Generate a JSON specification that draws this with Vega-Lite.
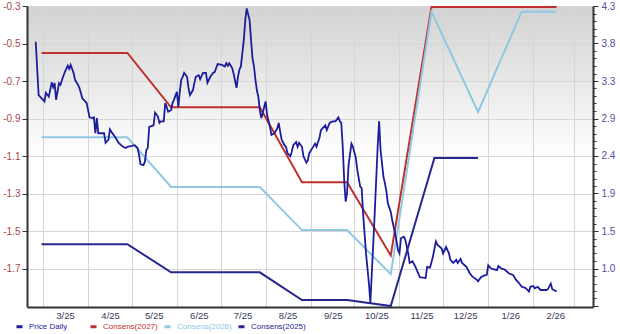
{
  "$schema": "https://vega.github.io/schema/vega-lite/v6.json",
  "width": 566,
  "height": 301,
  "autosize": "none",
  "padding": {"left": 27, "top": 6, "right": 27, "bottom": 27},
  "background": "#ffffff",
  "config": {
    "view": {
      "stroke": null,
      "fill": {"gradient": "linear", "x1": 0, "y1": 0, "x2": 0, "y2": 1,
        "stops": [{"offset": 0, "color": "#d2d2d2"}, {"offset": 0.5, "color": "#ffffff"}, {"offset": 1, "color": "#ffffff"}]}
    },
    "axis": {"labelFont": "Liberation Sans", "domainColor": "#333333", "domainWidth": 2, "gridColor": "#d6d6d6", "gridWidth": 1, "tickColor": "#333333", "title": null}
  },
  "datasets": {
    "consens": [
      {"d": "2025-02-28", "v": -0.55, "s": "Consens(2027)"},
      {"d": "2025-04-28", "v": -0.55, "s": "Consens(2027)"},
      {"d": "2025-05-28", "v": -0.84, "s": "Consens(2027)"},
      {"d": "2025-07-28", "v": -0.84, "s": "Consens(2027)"},
      {"d": "2025-08-26", "v": -1.24, "s": "Consens(2027)"},
      {"d": "2025-09-26", "v": -1.24, "s": "Consens(2027)"},
      {"d": "2025-10-26", "v": -1.63, "s": "Consens(2027)"},
      {"d": "2025-11-23", "v": -0.305, "s": "Consens(2027)"},
      {"d": "2026-02-17", "v": -0.305, "s": "Consens(2027)"},
      {"d": "2025-02-28", "v": -1.0, "s": "Consens(2026)"},
      {"d": "2025-04-28", "v": -1.0, "s": "Consens(2026)"},
      {"d": "2025-05-28", "v": -1.265, "s": "Consens(2026)"},
      {"d": "2025-07-28", "v": -1.265, "s": "Consens(2026)"},
      {"d": "2025-08-26", "v": -1.495, "s": "Consens(2026)"},
      {"d": "2025-09-26", "v": -1.495, "s": "Consens(2026)"},
      {"d": "2025-10-26", "v": -1.73, "s": "Consens(2026)"},
      {"d": "2025-11-23", "v": -0.33, "s": "Consens(2026)"},
      {"d": "2025-12-25", "v": -0.865, "s": "Consens(2026)"},
      {"d": "2026-01-24", "v": -0.33, "s": "Consens(2026)"},
      {"d": "2026-02-17", "v": -0.33, "s": "Consens(2026)"},
      {"d": "2025-02-28", "v": -1.57, "s": "Consens(2025)"},
      {"d": "2025-04-28", "v": -1.57, "s": "Consens(2025)"},
      {"d": "2025-05-28", "v": -1.72, "s": "Consens(2025)"},
      {"d": "2025-07-28", "v": -1.72, "s": "Consens(2025)"},
      {"d": "2025-08-26", "v": -1.868, "s": "Consens(2025)"},
      {"d": "2025-09-26", "v": -1.868, "s": "Consens(2025)"},
      {"d": "2025-10-26", "v": -1.9, "s": "Consens(2025)"},
      {"d": "2025-11-25", "v": -1.11, "s": "Consens(2025)"},
      {"d": "2025-12-25", "v": -1.11, "s": "Consens(2025)"}
    ],
    "price": [
      {"d": "2025-02-24", "v": 3.85}, {"d": "2025-02-26", "v": 3.18}, {"d": "2025-03-01", "v": 3.12}, {"d": "2025-03-02", "v": 3.10},
      {"d": "2025-03-03", "v": 3.21}, {"d": "2025-03-05", "v": 3.16}, {"d": "2025-03-07", "v": 3.34}, {"d": "2025-03-08", "v": 3.28},
      {"d": "2025-03-09", "v": 3.33}, {"d": "2025-03-10", "v": 3.12}, {"d": "2025-03-12", "v": 3.33}, {"d": "2025-03-13", "v": 3.31},
      {"d": "2025-03-14", "v": 3.37}, {"d": "2025-03-16", "v": 3.47}, {"d": "2025-03-18", "v": 3.55}, {"d": "2025-03-19", "v": 3.51},
      {"d": "2025-03-20", "v": 3.56}, {"d": "2025-03-22", "v": 3.46}, {"d": "2025-03-23", "v": 3.37}, {"d": "2025-03-25", "v": 3.31},
      {"d": "2025-03-26", "v": 3.27}, {"d": "2025-03-27", "v": 3.21}, {"d": "2025-03-28", "v": 3.14}, {"d": "2025-03-30", "v": 3.10},
      {"d": "2025-03-31", "v": 3.08}, {"d": "2025-04-02", "v": 2.90}, {"d": "2025-04-04", "v": 2.89}, {"d": "2025-04-05", "v": 2.90},
      {"d": "2025-04-06", "v": 2.70}, {"d": "2025-04-07", "v": 2.89}, {"d": "2025-04-08", "v": 2.70}, {"d": "2025-04-10", "v": 2.70},
      {"d": "2025-04-12", "v": 2.70}, {"d": "2025-04-13", "v": 2.58}, {"d": "2025-04-15", "v": 2.62}, {"d": "2025-04-16", "v": 2.75},
      {"d": "2025-04-17", "v": 2.72}, {"d": "2025-04-20", "v": 2.64}, {"d": "2025-04-22", "v": 2.58}, {"d": "2025-04-25", "v": 2.53},
      {"d": "2025-04-27", "v": 2.515}, {"d": "2025-04-28", "v": 2.53}, {"d": "2025-05-03", "v": 2.55}, {"d": "2025-05-05", "v": 2.515},
      {"d": "2025-05-06", "v": 2.43}, {"d": "2025-05-07", "v": 2.31}, {"d": "2025-05-09", "v": 2.30}, {"d": "2025-05-10", "v": 2.34},
      {"d": "2025-05-11", "v": 2.49}, {"d": "2025-05-12", "v": 2.515}, {"d": "2025-05-13", "v": 2.78}, {"d": "2025-05-16", "v": 2.80},
      {"d": "2025-05-17", "v": 2.96}, {"d": "2025-05-19", "v": 2.91}, {"d": "2025-05-20", "v": 2.83}, {"d": "2025-05-21", "v": 2.85},
      {"d": "2025-05-23", "v": 2.85}, {"d": "2025-05-24", "v": 3.08}, {"d": "2025-05-25", "v": 3.03}, {"d": "2025-05-26", "v": 2.97},
      {"d": "2025-05-28", "v": 2.99}, {"d": "2025-05-29", "v": 3.08}, {"d": "2025-05-30", "v": 3.12}, {"d": "2025-06-01", "v": 3.22},
      {"d": "2025-06-02", "v": 3.03}, {"d": "2025-06-03", "v": 3.22}, {"d": "2025-06-04", "v": 3.37}, {"d": "2025-06-05", "v": 3.41},
      {"d": "2025-06-06", "v": 3.46}, {"d": "2025-06-08", "v": 3.41}, {"d": "2025-06-09", "v": 3.27}, {"d": "2025-06-10", "v": 3.18},
      {"d": "2025-06-12", "v": 3.24}, {"d": "2025-06-13", "v": 3.33}, {"d": "2025-06-14", "v": 3.41}, {"d": "2025-06-16", "v": 3.43},
      {"d": "2025-06-17", "v": 3.38}, {"d": "2025-06-19", "v": 3.46}, {"d": "2025-06-21", "v": 3.46}, {"d": "2025-06-22", "v": 3.335},
      {"d": "2025-06-24", "v": 3.41}, {"d": "2025-06-26", "v": 3.46}, {"d": "2025-06-27", "v": 3.47}, {"d": "2025-06-28", "v": 3.52},
      {"d": "2025-06-29", "v": 3.57}, {"d": "2025-07-02", "v": 3.56}, {"d": "2025-07-04", "v": 3.54}, {"d": "2025-07-05", "v": 3.58},
      {"d": "2025-07-06", "v": 3.55}, {"d": "2025-07-07", "v": 3.58}, {"d": "2025-07-09", "v": 3.52}, {"d": "2025-07-10", "v": 3.45},
      {"d": "2025-07-12", "v": 3.27}, {"d": "2025-07-13", "v": 3.41}, {"d": "2025-07-14", "v": 3.50}, {"d": "2025-07-15", "v": 3.54},
      {"d": "2025-07-17", "v": 3.87}, {"d": "2025-07-18", "v": 4.12}, {"d": "2025-07-19", "v": 4.27}, {"d": "2025-07-21", "v": 4.12},
      {"d": "2025-07-22", "v": 3.87}, {"d": "2025-07-23", "v": 3.64}, {"d": "2025-07-24", "v": 3.54}, {"d": "2025-07-25", "v": 3.37},
      {"d": "2025-07-26", "v": 3.24}, {"d": "2025-07-27", "v": 3.16}, {"d": "2025-07-28", "v": 2.99}, {"d": "2025-07-29", "v": 2.89},
      {"d": "2025-07-30", "v": 2.95}, {"d": "2025-07-31", "v": 3.03}, {"d": "2025-08-01", "v": 3.10}, {"d": "2025-08-02", "v": 2.93},
      {"d": "2025-08-04", "v": 2.78}, {"d": "2025-08-05", "v": 2.68}, {"d": "2025-08-07", "v": 2.70}, {"d": "2025-08-09", "v": 2.76},
      {"d": "2025-08-10", "v": 2.83}, {"d": "2025-08-11", "v": 2.72}, {"d": "2025-08-12", "v": 2.62}, {"d": "2025-08-14", "v": 2.55},
      {"d": "2025-08-15", "v": 2.53}, {"d": "2025-08-16", "v": 2.45}, {"d": "2025-08-18", "v": 2.41}, {"d": "2025-08-19", "v": 2.47},
      {"d": "2025-08-20", "v": 2.55}, {"d": "2025-08-22", "v": 2.59}, {"d": "2025-08-23", "v": 2.53}, {"d": "2025-08-24", "v": 2.58},
      {"d": "2025-08-26", "v": 2.53}, {"d": "2025-08-27", "v": 2.41}, {"d": "2025-08-29", "v": 2.33}, {"d": "2025-08-30", "v": 2.36},
      {"d": "2025-08-31", "v": 2.45}, {"d": "2025-09-02", "v": 2.51}, {"d": "2025-09-04", "v": 2.57}, {"d": "2025-09-05", "v": 2.53},
      {"d": "2025-09-06", "v": 2.59}, {"d": "2025-09-07", "v": 2.64}, {"d": "2025-09-08", "v": 2.74}, {"d": "2025-09-11", "v": 2.80},
      {"d": "2025-09-12", "v": 2.74}, {"d": "2025-09-14", "v": 2.83}, {"d": "2025-09-16", "v": 2.85}, {"d": "2025-09-18", "v": 2.85},
      {"d": "2025-09-20", "v": 2.90}, {"d": "2025-09-21", "v": 2.85}, {"d": "2025-09-22", "v": 2.83}, {"d": "2025-09-23", "v": 2.53},
      {"d": "2025-09-24", "v": 2.11}, {"d": "2025-09-25", "v": 1.84}, {"d": "2025-09-26", "v": 1.95}, {"d": "2025-09-27", "v": 2.30},
      {"d": "2025-09-29", "v": 2.57}, {"d": "2025-09-30", "v": 2.53}, {"d": "2025-10-02", "v": 2.39}, {"d": "2025-10-03", "v": 2.24},
      {"d": "2025-10-05", "v": 2.03}, {"d": "2025-10-06", "v": 2.01}, {"d": "2025-10-07", "v": 1.69}, {"d": "2025-10-09", "v": 1.19},
      {"d": "2025-10-11", "v": 0.81}, {"d": "2025-10-12", "v": 0.57}, {"d": "2025-10-15", "v": 1.70}, {"d": "2025-10-17", "v": 2.53},
      {"d": "2025-10-18", "v": 2.85}, {"d": "2025-10-19", "v": 2.49}, {"d": "2025-10-21", "v": 2.15}, {"d": "2025-10-22", "v": 2.07},
      {"d": "2025-10-23", "v": 1.97}, {"d": "2025-10-24", "v": 1.82}, {"d": "2025-10-26", "v": 1.71}, {"d": "2025-10-27", "v": 1.61},
      {"d": "2025-10-29", "v": 1.44}, {"d": "2025-10-30", "v": 1.34}, {"d": "2025-10-31", "v": 1.23}, {"d": "2025-11-01", "v": 1.19},
      {"d": "2025-11-02", "v": 1.38}, {"d": "2025-11-04", "v": 1.40}, {"d": "2025-11-05", "v": 1.36}, {"d": "2025-11-07", "v": 1.19},
      {"d": "2025-11-08", "v": 1.07}, {"d": "2025-11-10", "v": 1.09}, {"d": "2025-11-12", "v": 1.02}, {"d": "2025-11-15", "v": 0.89},
      {"d": "2025-11-19", "v": 0.88}, {"d": "2025-11-20", "v": 1.02}, {"d": "2025-11-22", "v": 1.01}, {"d": "2025-11-24", "v": 1.15},
      {"d": "2025-11-26", "v": 1.34}, {"d": "2025-11-27", "v": 1.30}, {"d": "2025-11-30", "v": 1.25}, {"d": "2025-12-01", "v": 1.19},
      {"d": "2025-12-03", "v": 1.27}, {"d": "2025-12-05", "v": 1.19}, {"d": "2025-12-06", "v": 1.11}, {"d": "2025-12-08", "v": 1.07},
      {"d": "2025-12-10", "v": 1.11}, {"d": "2025-12-11", "v": 1.07}, {"d": "2025-12-13", "v": 1.12}, {"d": "2025-12-14", "v": 1.07},
      {"d": "2025-12-17", "v": 1.02}, {"d": "2025-12-19", "v": 0.95}, {"d": "2025-12-21", "v": 0.90}, {"d": "2025-12-24", "v": 0.86},
      {"d": "2025-12-25", "v": 0.84}, {"d": "2025-12-27", "v": 0.89}, {"d": "2025-12-29", "v": 0.91}, {"d": "2025-12-31", "v": 0.92},
      {"d": "2026-01-01", "v": 1.04}, {"d": "2026-01-03", "v": 1.00}, {"d": "2026-01-05", "v": 0.99}, {"d": "2026-01-07", "v": 0.98},
      {"d": "2026-01-08", "v": 1.03}, {"d": "2026-01-10", "v": 1.00}, {"d": "2026-01-12", "v": 0.99}, {"d": "2026-01-14", "v": 0.96},
      {"d": "2026-01-15", "v": 0.94}, {"d": "2026-01-18", "v": 0.92}, {"d": "2026-01-20", "v": 0.86}, {"d": "2026-01-22", "v": 0.82},
      {"d": "2026-01-24", "v": 0.77}, {"d": "2026-01-26", "v": 0.76}, {"d": "2026-01-27", "v": 0.75}, {"d": "2026-01-29", "v": 0.71},
      {"d": "2026-01-30", "v": 0.77}, {"d": "2026-02-01", "v": 0.78}, {"d": "2026-02-02", "v": 0.75}, {"d": "2026-02-04", "v": 0.77},
      {"d": "2026-02-06", "v": 0.73}, {"d": "2026-02-07", "v": 0.73}, {"d": "2026-02-10", "v": 0.73}, {"d": "2026-02-11", "v": 0.74},
      {"d": "2026-02-13", "v": 0.81}, {"d": "2026-02-14", "v": 0.74}, {"d": "2026-02-15", "v": 0.73}, {"d": "2026-02-17", "v": 0.71}
    ]
  },
  "encoding": {
    "x": {
      "field": "d", "type": "temporal",
      "scale": {"type": "utc", "domain": [{"year": 2025, "month": 2, "date": 18, "utc": true}, {"year": 2026, "month": 3, "date": 14, "utc": true}]},
      "axis": {
        "values": [
          {"year": 2025, "month": 3, "date": 1, "utc": true}, {"year": 2025, "month": 4, "date": 1, "utc": true},
          {"year": 2025, "month": 5, "date": 1, "utc": true}, {"year": 2025, "month": 6, "date": 1, "utc": true},
          {"year": 2025, "month": 7, "date": 1, "utc": true}, {"year": 2025, "month": 8, "date": 1, "utc": true},
          {"year": 2025, "month": 9, "date": 1, "utc": true}, {"year": 2025, "month": 10, "date": 1, "utc": true},
          {"year": 2025, "month": 11, "date": 1, "utc": true}, {"year": 2025, "month": 12, "date": 1, "utc": true},
          {"year": 2026, "month": 1, "date": 1, "utc": true}, {"year": 2026, "month": 2, "date": 1, "utc": true},
          {"year": 2026, "month": 3, "date": 1, "utc": true}
        ],
        "format": "%-m/%y",
        "labelExpr": "utcyear(datum.value) == 2026 && utcmonth(datum.value) == 2 ? '' : datum.label",
        "labelOffset": 22,
        "ticks": false,
        "grid": true,
        "labelFontSize": 9.5,
        "labelColor": "#3a3a55",
        "labelPadding": 3,
        "labelFlush": false,
        "labelOverlap": false
      }
    },
    "color": {
      "field": "s", "type": "nominal",
      "scale": {"domain": ["Price Daily", "Consens(2027)", "Consens(2026)", "Consens(2025)"], "range": ["#1c1c9c", "#c0302e", "#8ec8e3", "#26268f"]},
      "legend": {
        "orient": "none", "legendX": -12, "legendY": 316, "direction": "horizontal", "columns": 4,
        "gridAlign": "all", "columnPadding": 0, "symbolType": "stroke", "symbolSize": 36, "symbolStrokeWidth": 3,
        "labelFont": "Liberation Sans", "labelFontSize": 8, "title": null, "padding": 0, "labelOffset": 5,
        "encode": {"labels": {"update": {"fill": {"scale": "color", "field": "value"}}}}
      }
    }
  },
  "layer": [
    {
      "data": {"name": "consens"},
      "mark": {"type": "line", "strokeWidth": 2, "clip": true},
      "encoding": {
        "y": {
          "field": "v", "type": "quantitative",
          "scale": {"domain": [-1.905, -0.3], "nice": false, "zero": false},
          "axis": {
            "orient": "left",
            "values": [-0.3, -0.5, -0.7, -0.9, -1.1, -1.3, -1.5, -1.7],
            "labelExpr": "datum.value < 0 ? '-' + format(-datum.value, '.1f') : format(datum.value, '.1f')",
            "labelColor": "#a84848", "labelFontSize": 10, "tickSize": 5, "labelPadding": 2, "grid": true
          }
        }
      }
    },
    {
      "data": {"name": "price"},
      "mark": {"type": "line", "strokeWidth": 1.8, "clip": true},
      "encoding": {
        "color": {"datum": "Price Daily"},
        "y": {
          "field": "v", "type": "quantitative",
          "scale": {"domain": [0.516, 4.3], "nice": false, "zero": false},
          "axis": {
            "orient": "right",
            "values": [4.3, 4.2057, 4.1114, 4.0171, 3.9229, 3.8286, 3.7343, 3.64, 3.5457, 3.4514, 3.3571, 3.2629, 3.1686, 3.0743, 2.98, 2.8857, 2.7914, 2.6971, 2.6029, 2.5086, 2.4143, 2.32, 2.2257, 2.1314, 2.0371, 1.9429, 1.8486, 1.7543, 1.66, 1.5657, 1.4714, 1.3771, 1.2829, 1.1886, 1.0943, 1.0, 0.9057, 0.8114, 0.7171, 0.6229, 0.5286],
            "labelExpr": "(round((4.3 - datum.value) / 0.0942857) % 5 == 0 && round((4.3 - datum.value) / 0.0942857) <= 35) ? ['4.3','3.8','3.3','2.9','2.4','1.9','1.5','1.0'][round((4.3 - datum.value) / 0.471429)] : ''",
            "tickSize": {"condition": {"test": "round((4.3 - datum.value) / 0.0942857) % 5 == 0", "value": 5}, "value": 3},
            "labelColor": "#5252a2", "labelFontSize": 10, "labelPadding": 3, "grid": false, "labelOverlap": false
          }
        }
      }
    }
  ],
  "resolve": {"scale": {"y": "independent"}}
}
